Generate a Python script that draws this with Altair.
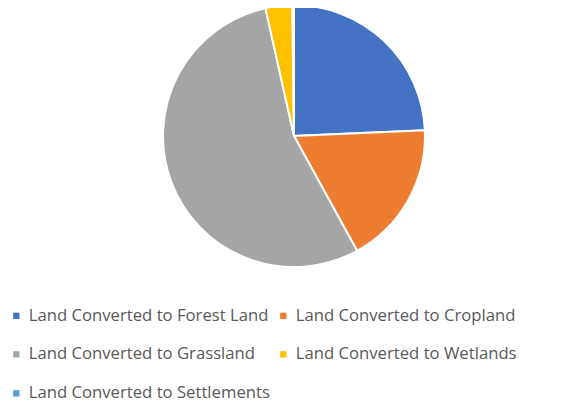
import altair as alt
import pandas as pd

categories = [
    "Land Converted to Forest Land",
    "Land Converted to Cropland",
    "Land Converted to Grassland",
    "Land Converted to Wetlands",
    "Land Converted to Settlements",
]
shares = [24.3, 17.7, 54.5, 3.3, 0.2]
colors = ["#4472C4", "#ED7D31", "#A5A5A5", "#FFC000", "#5B9BD5"]

df = pd.DataFrame({"category": categories, "share": shares, "order": list(range(len(categories)))})

chart = (
    alt.Chart(df)
    .mark_arc(stroke="white", strokeWidth=2, outerRadius=131)
    .encode(
        theta=alt.Theta("share:Q", stack=True),
        order=alt.Order("order:Q"),
        color=alt.Color(
            "category:N",
            sort=categories,
            scale=alt.Scale(domain=categories, range=colors),
            legend=alt.Legend(
                title=None,
                orient="none",
                direction="horizontal",
                legendX=0,
                legendY=299,
                columns=2,
                symbolType="square",
                symbolSize=40,
                symbolStrokeWidth=0,
                labelFont="Open Sans",
                labelFontSize=16.7,
                labelColor="#595959",
                labelLimit=0,
                rowPadding=21,
                columnPadding=5,
                labelOffset=4,
            ),
        ),
        x=alt.value(286),
        y=alt.value(128),
    )
    .properties(width=549, height=394, autosize=alt.AutoSizeParams(type="none"), padding=0)
    .configure_view(stroke=None)
)

chart.save("out.html", embed_options={"renderer": "svg", "actions": False})
